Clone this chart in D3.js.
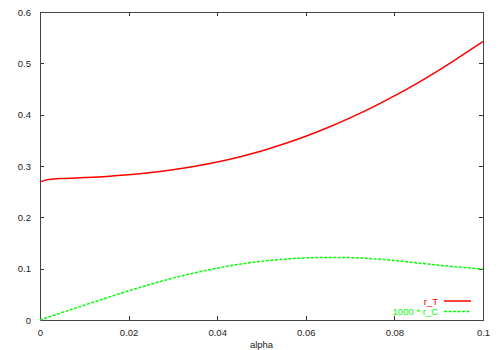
<!DOCTYPE html>
<html>
<head>
<meta charset="utf-8">
<script src="https://cdn.jsdelivr.net/npm/d3@7"></script>
<style>
  body { margin: 0; background: #fff; }
  svg { display: block; }
</style>
</head>
<body>
<div id="chart"></div>
<script>
// alpha values (x axis)
var alpha = [0, 0.0015, 0.003, 0.005, 0.01, 0.015, 0.02, 0.025, 0.03, 0.035, 0.04, 0.045, 0.05,
             0.055, 0.06, 0.065, 0.07, 0.075, 0.08, 0.085, 0.09, 0.095, 0.1];
// r_T series
var rT = [0.269, 0.273, 0.2745, 0.2757, 0.2775, 0.2797, 0.2829, 0.2872, 0.2927, 0.2995, 0.3078, 0.3177, 0.3293,
          0.3427, 0.3579, 0.3749, 0.3937, 0.4142, 0.4365, 0.4606, 0.4864, 0.5141, 0.5425];
// 1000 * r_C series
var rC = [0, 0.0044, 0.0088, 0.0145, 0.0289, 0.043, 0.0568, 0.0697, 0.0815, 0.092, 0.101, 0.1085, 0.1145,
          0.1185, 0.121, 0.1219, 0.1215, 0.1195, 0.116, 0.1113, 0.1068, 0.1028, 0.0992];

var xTicks = [0, 0.02, 0.04, 0.06, 0.08, 0.1];
var yTicks = [0, 0.1, 0.2, 0.3, 0.4, 0.5, 0.6];
var seriesNames = ["r_T", "1000 * r_C"];
var seriesColors = ["#ff0000", "#00ff00"];

var width = 500, height = 350;
var margins = {left: 40, right: 17, top: 12, bottom: 30};
var w = width - margins.left - margins.right,
    h = height - margins.top - margins.bottom;

var svg = d3.select("#chart").append("svg")
    .attr("width", width)
    .attr("height", height)
    .style("font-family", "'Liberation Sans', Arial, sans-serif")
    .style("font-size", "9.5px");
var g = svg.append("g")
    .attr("transform", "translate(" + margins.left + "," + margins.top + ")");

var x = d3.scaleLinear().domain([0, 0.1]).range([0, w]);
var y = d3.scaleLinear().domain([0, 0.6]).range([h, 0]);

var fmt = function(d) { return d3.format("")(+d.toFixed(2)); };

// axes with inward ticks, mirrored on top/right
var tick = 4;
function styleAxis(sel) {
    sel.select(".domain").remove();
    sel.selectAll(".tick line").attr("stroke", "#333").attr("shape-rendering", "crispEdges");
    sel.selectAll("text").attr("fill", "#222").style("font-size", "9.5px")
        .style("font-family", "'Liberation Sans', Arial, sans-serif");
}
g.append("g").attr("transform", "translate(0," + h + ")")
    .call(d3.axisBottom(x).tickValues(xTicks).tickFormat(fmt).tickSizeInner(-tick).tickSizeOuter(0).tickPadding(9))
    .call(styleAxis);
g.append("g")
    .call(d3.axisLeft(y).tickValues(yTicks).tickFormat(fmt).tickSizeInner(-tick).tickSizeOuter(0).tickPadding(9))
    .call(styleAxis);
g.append("g")
    .call(d3.axisTop(x).tickValues(xTicks).tickFormat("").tickSizeInner(-tick).tickSizeOuter(0))
    .call(styleAxis);
g.append("g").attr("transform", "translate(" + w + ",0)")
    .call(d3.axisRight(y).tickValues(yTicks).tickFormat("").tickSizeInner(-tick).tickSizeOuter(0))
    .call(styleAxis);

// border
g.append("rect")
    .attr("x", 0).attr("y", 0).attr("width", w).attr("height", h)
    .attr("fill", "none").attr("stroke", "#444").attr("shape-rendering", "crispEdges");

// x label
svg.append("text")
    .attr("x", margins.left + w / 2).attr("y", 348)
    .attr("text-anchor", "middle").attr("fill", "#222")
    .text("alpha");

// curves
var line = d3.line().curve(d3.curveMonotoneX);
var series = [rT, rC];
series.forEach(function(vals, i) {
    g.append("path")
        .attr("d", line(alpha.map(function(a, j) { return [x(a), y(vals[j])]; })))
        .attr("fill", "none")
        .attr("stroke", seriesColors[i])
        .attr("stroke-width", 1.5)
        .attr("stroke-dasharray", i === 1 ? "3,1.5" : null);
});

// legend
var legend = g.append("g").attr("transform", "translate(" + (w - 12) + "," + (h - 19) + ")");
seriesNames.forEach(function(name, i) {
    var row = legend.append("g").attr("transform", "translate(0," + (i * 10.5) + ")");
    row.append("line")
        .attr("x1", -27).attr("x2", 0).attr("y1", 0).attr("y2", 0)
        .attr("stroke", seriesColors[i]).attr("stroke-width", 1.5)
        .attr("stroke-dasharray", i === 1 ? "3,1.5" : null);
    row.append("text")
        .attr("x", -33).attr("y", 3.5)
        .attr("text-anchor", "end").attr("fill", seriesColors[i])
        .text(name);
});
</script>
</body>
</html>
